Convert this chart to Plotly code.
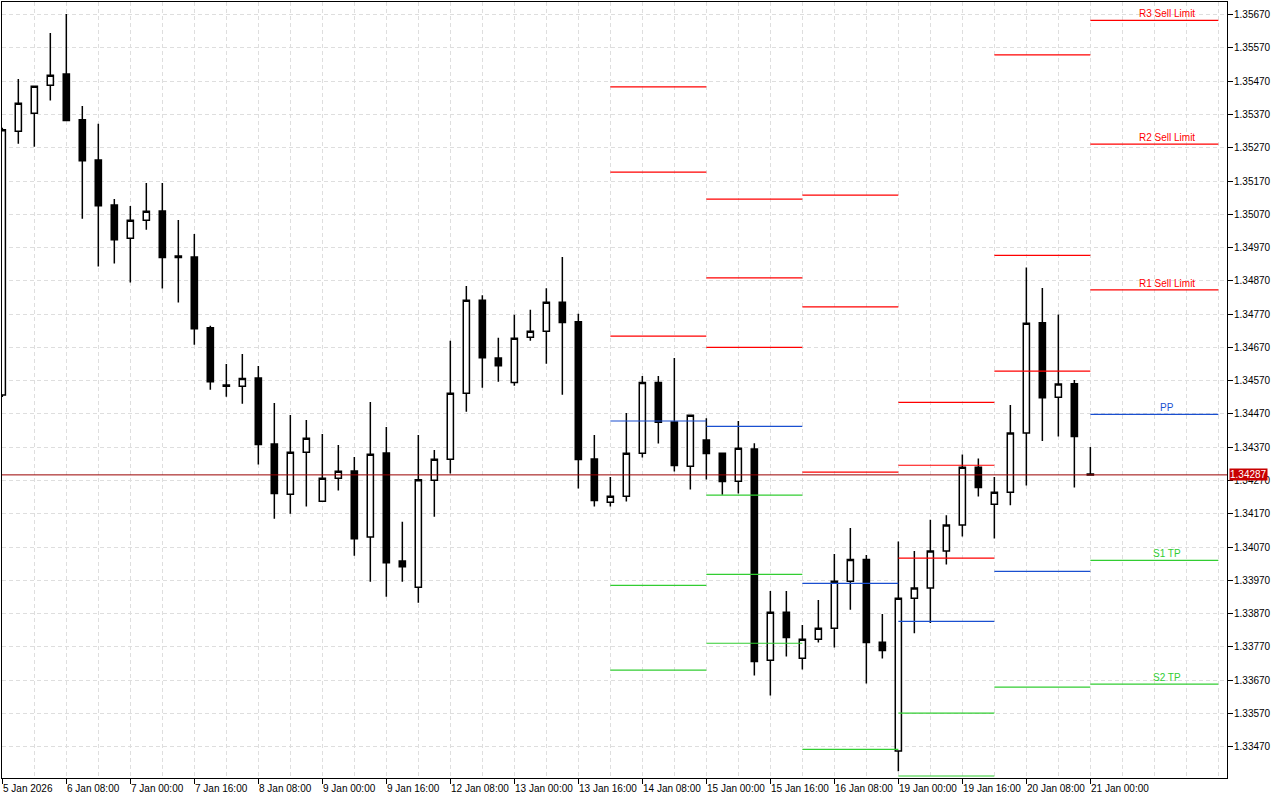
import plotly.graph_objects as go

# ---------------- data ----------------
tick_labels = ["5 Jan 2026", "6 Jan 08:00", "7 Jan 00:00", "7 Jan 16:00", "8 Jan 08:00",
               "9 Jan 00:00", "9 Jan 16:00", "12 Jan 08:00", "13 Jan 00:00", "13 Jan 16:00",
               "14 Jan 08:00", "15 Jan 00:00", "15 Jan 16:00", "16 Jan 08:00", "19 Jan 00:00",
               "19 Jan 16:00", "20 Jan 08:00", "21 Jan 00:00"]
tick_bars = list(range(0, 69, 4))

opens = [1.34527, 1.35320, 1.35374, 1.35458, 1.35492, 1.35354, 1.35233, 1.35098, 1.34998, 1.35052,
         1.35080, 1.34945, 1.34942, 1.34729, 1.34557, 1.34553, 1.34578, 1.34380, 1.34229, 1.34355,
         1.34208, 1.34277, 1.34299, 1.34100, 1.34353, 1.34028, 1.33949, 1.34271, 1.34334, 1.34532,
         1.34812, 1.34638, 1.34565, 1.34701, 1.34719, 1.34806, 1.34747, 1.34335, 1.34205, 1.34223,
         1.34352, 1.34565, 1.34446, 1.34313, 1.34392, 1.34352, 1.34268, 1.34365, 1.33730, 1.33874,
         1.33736, 1.33793, 1.33826, 1.33967, 1.34033, 1.33784, 1.33457, 1.33916, 1.33947, 1.34058,
         1.34136, 1.34310, 1.34199, 1.34235, 1.34413, 1.34744, 1.34520, 1.34561, 1.34290]
highs = [1.35330, 1.35477, 1.35457, 1.35615, 1.35672, 1.35396, 1.35342, 1.35116, 1.35095, 1.35164,
         1.35164, 1.35053, 1.35011, 1.34735, 1.34620, 1.34650, 1.34614, 1.34503, 1.34467, 1.34452,
         1.34410, 1.34377, 1.34341, 1.34506, 1.34431, 1.34146, 1.34407, 1.34362, 1.34690, 1.34855,
         1.34827, 1.34699, 1.34768, 1.34783, 1.34848, 1.34942, 1.34771, 1.34407, 1.34281, 1.34473,
         1.34584, 1.34584, 1.34638, 1.34468, 1.34457, 1.34354, 1.34449, 1.34382, 1.33938, 1.33938,
         1.33836, 1.33911, 1.34049, 1.34127, 1.34046, 1.33869, 1.34087, 1.34058, 1.34152, 1.34166,
         1.34348, 1.34336, 1.34281, 1.34497, 1.34910, 1.34849, 1.34769, 1.34572, 1.34371]
lows = [1.34521, 1.35282, 1.35273, 1.35412, 1.35351, 1.35057, 1.34913, 1.34922, 1.34865, 1.35024,
        1.34847, 1.34805, 1.34678, 1.34543, 1.34522, 1.34501, 1.34318, 1.34155, 1.34170, 1.34192,
        1.34206, 1.34240, 1.34044, 1.33966, 1.33921, 1.33966, 1.33903, 1.34161, 1.34291, 1.34477,
        1.34549, 1.34567, 1.34555, 1.34690, 1.34621, 1.34528, 1.34246, 1.34192, 1.34192, 1.34207,
        1.34339, 1.34381, 1.34297, 1.34243, 1.34273, 1.34227, 1.34231, 1.33684, 1.33624, 1.33741,
        1.33702, 1.33783, 1.33768, 1.33882, 1.33660, 1.33735, 1.33396, 1.33811, 1.33842, 1.34018,
        1.34102, 1.34222, 1.34096, 1.34196, 1.34255, 1.34389, 1.34402, 1.34249, 1.34285]
closes = [1.35324, 1.35404, 1.35455, 1.35488, 1.35352, 1.35231, 1.35096, 1.34994, 1.35052, 1.35079,
          1.34940, 1.34940, 1.34726, 1.34567, 1.34553, 1.34577, 1.34378, 1.34231, 1.34355, 1.34397,
          1.34277, 1.34298, 1.34095, 1.34349, 1.34023, 1.34011, 1.34272, 1.34334, 1.34532, 1.34812,
          1.34639, 1.34615, 1.34698, 1.34719, 1.34806, 1.34745, 1.34333, 1.34210, 1.34223, 1.34352,
          1.34565, 1.34445, 1.34315, 1.34466, 1.34351, 1.34267, 1.34367, 1.33726, 1.33874, 1.33798,
          1.33793, 1.33826, 1.33967, 1.34033, 1.33783, 1.33759, 1.33916, 1.33947, 1.34058, 1.34136,
          1.34310, 1.34249, 1.34235, 1.34413, 1.34743, 1.34519, 1.34560, 1.34402, 1.34287]

last_price = 1.34287

# daily pivot levels (bar index where each day starts / ends)
day_start = [38, 44, 50, 56, 62, 68]
day_end = [44, 50, 56, 62, 68, 76]
R3 = [1.35453, 1.35116, 1.35128, 1.34505, 1.35549, 1.35653]
R2 = [1.35197, 1.34879, 1.34792, 1.34316, 1.34947, 1.35281]
R1 = [1.34704, 1.34670, 1.34295, 1.34037, 1.34599, 1.34843]
PP = [1.34449, 1.34433, 1.33961, 1.33847, 1.33997, 1.34469]
S1 = [1.33955, 1.34226, 1.33462, 1.33571, 1.33649, 1.34030]
S2 = [1.33700, 1.33988, None, 1.33382, None, 1.33658]
S3 = [None, 1.33781, None, None, None, None]

level_names = ["R3 Sell Limit", "R2 Sell Limit", "R1 Sell Limit", "PP", "S1 TP", "S2 TP"]

price_ticks = [round(1.33470 + 0.001 * i, 5) for i in range(23)]

# ---------------- style ----------------
RED = "#ff0000"
BLUE = "#1a4fd0"
GREEN = "#32cd32"
GRID = "#dedede"
FONT = "Liberation Sans"

fig = go.Figure()

x = list(range(len(opens)))
fig.add_trace(go.Candlestick(
    x=x, open=opens, high=highs, low=lows, close=closes,
    increasing=dict(line=dict(color="black", width=1.5), fillcolor="white"),
    decreasing=dict(line=dict(color="black", width=1.5), fillcolor="black"),
    whiskerwidth=0, hoverinfo="skip", showlegend=False,
))


def add_level(values, color):
    xs, ys = [], []
    for s, e, v in zip(day_start, day_end, values):
        if v is None:
            continue
        xs += [s, e, None]
        ys += [v, v, None]
    fig.add_trace(go.Scatter(x=xs, y=ys, mode="lines", line=dict(color=color, width=1.2),
                             hoverinfo="skip", showlegend=False))


for vals in (R3, R2, R1):
    add_level(vals, RED)
add_level(PP, BLUE)
for vals in (S1, S2, S3):
    add_level(vals, GREEN)

# current price line
fig.add_shape(type="line", xref="paper", x0=0, x1=1, yref="y", y0=last_price, y1=last_price,
              line=dict(color="#9a0000", width=1), layer="above")

annotations = []
# level labels on the last day
label_vals = [R3[-1], R2[-1], R1[-1], PP[-1], S1[-1], S2[-1]]
label_cols = [RED, RED, RED, BLUE, GREEN, GREEN]
label_x = (day_start[-1] + day_end[-1]) / 2 + 0.8
for name, v, c in zip(level_names, label_vals, label_cols):
    annotations.append(dict(x=label_x, y=v, xref="x", yref="y", text=name, showarrow=False,
                            xanchor="center", yanchor="bottom", yshift=-1,
                            font=dict(family=FONT, size=10, color=c)))

# x tick labels (left aligned at tick like MT4)
for b, t in zip(tick_bars, tick_labels):
    annotations.append(dict(x=b, y=0, xref="x", yref="paper", text=t, showarrow=False,
                            xanchor="left", yanchor="top", xshift=-1, yshift=-3,
                            font=dict(family=FONT, size=10, color="black")))

# price box
annotations.append(dict(x=1, y=last_price, xref="paper", yref="y", text="1.34287",
                        showarrow=False, xanchor="left", yanchor="middle", xshift=2,
                        bgcolor="#c80000", borderpad=0,
                        font=dict(family=FONT, size=10, color="white")))

fig.update_layout(
    width=1280, height=800,
    margin=dict(l=2, r=53, t=2, b=22),
    paper_bgcolor="white", plot_bgcolor="white",
    boxgap=0.45,
    annotations=annotations,
    showlegend=False,
    font=dict(family=FONT, size=10, color="black"),
)

fig.update_xaxes(
    range=[-0.02, 76.54], rangeslider_visible=False,
    tickvals=tick_bars, ticktext=[""] * len(tick_bars), showticklabels=True,
    ticks="outside", ticklen=5, tickcolor="black", tickwidth=1,
    showgrid=True, gridcolor=GRID, griddash="4px,3px", gridwidth=1,
    minor=dict(tick0=0, dtick=2, showgrid=True, gridcolor=GRID, griddash="4px,3px", ticks=""),
    showline=True, linecolor="black", linewidth=1, mirror=True, zeroline=False,
)
fig.update_yaxes(
    range=[1.33376, 1.357082], side="right",
    tickvals=price_ticks, ticktext=[f"{v:.5f}" for v in price_ticks],
    ticks="outside", ticklen=5, tickcolor="black", tickwidth=1,
    ticklabelstandoff=-1,
    tickfont=dict(family=FONT, size=10, color="black"),
    showgrid=True, gridcolor=GRID, griddash="4px,3px", gridwidth=1,
    showline=True, linecolor="black", linewidth=1, mirror=True, zeroline=False,
)

fig.write_html("out.html", config={"displayModeBar": False},
               post_script="document.body.style.margin='0';document.body.style.overflow='hidden';")
